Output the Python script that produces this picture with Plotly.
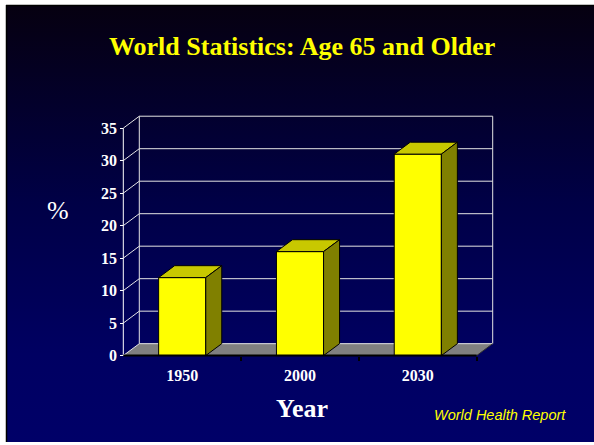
import base64
import plotly.graph_objects as go

# ---- data ----
categories = ["1950", "2000", "2030"]
values = [12, 16, 31]
y_ticks = [0, 5, 10, 15, 20, 25, 30, 35]

title_text = "World Statistics: Age 65 and Older"
y_label = "%"
x_label = "Year"
source_text = "World Health Report"

# ---- geometry (pixels) ----
W, H = 594, 445
FRONT_L, FRONT_R = 123.3, 476.7      # px of x = -0.5 and x = 2.5 (front plane)
Y0_PX, YTOP_PX = 358.0, 129.0        # px of y = 0 and y = 35 (front plane)
DEPTH_X_PX, DEPTH_Y_PX = 16.0, 12.0  # 3D depth offset
PAD = 6.0

n = len(categories)
xs = list(range(n))
x_lo, x_hi = -0.5, n - 0.5
y_max = y_ticks[-1]
sx = (FRONT_R - FRONT_L) / (x_hi - x_lo)
sy = (Y0_PX - YTOP_PX) / (y_max - y_ticks[0])
DX = DEPTH_X_PX / sx
DY = DEPTH_Y_PX / sy
BAR_W = 0.4

x_range = [x_lo - PAD / sx, x_hi + DX + PAD / sx]
y_range = [-PAD / sy, y_max + DY + PAD / sy]
x_dom = [(FRONT_L - PAD) / W, (FRONT_R + DEPTH_X_PX + PAD) / W]
y_dom = [(H - Y0_PX - PAD) / H, (H - YTOP_PX + DEPTH_Y_PX + PAD) / H]

fig = go.Figure()

# front faces
fig.add_trace(go.Bar(
    x=xs, y=values, width=BAR_W,
    marker=dict(color="#FFFF00", line=dict(color="black", width=1)),
    hoverinfo="skip", showlegend=False,
))

# top faces
tx, ty = [], []
for i, v in zip(xs, values):
    l, r = i - BAR_W / 2, i + BAR_W / 2
    tx += [l, r, r + DX, l + DX, l, None]
    ty += [v, v, v + DY, v + DY, v, None]
fig.add_trace(go.Scatter(x=tx, y=ty, mode="lines", fill="toself",
                         fillcolor="#C8C800", line=dict(color="black", width=1),
                         hoverinfo="skip", showlegend=False))
# side faces
sxs, sys_ = [], []
for i, v in zip(xs, values):
    r = i + BAR_W / 2
    sxs += [r, r + DX, r + DX, r, r, None]
    sys_ += [0, DY, v + DY, v, 0, None]
fig.add_trace(go.Scatter(x=sxs, y=sys_, mode="lines", fill="toself",
                         fillcolor="#808000", line=dict(color="black", width=1),
                         hoverinfo="skip", showlegend=False))

shapes = []
# floor
shapes.append(dict(type="path", xref="x", yref="y", layer="below",
                   path=f"M {x_lo},0 L {x_hi},0 L {x_hi+DX},{DY} L {x_lo+DX},{DY} Z",
                   fillcolor="#808080", line=dict(width=0)))
grid_col = "#E4E4E4"
for v in y_ticks:
    shapes.append(dict(type="line", xref="x", yref="y", layer="below",
                       x0=x_lo + DX, x1=x_hi + DX, y0=v + DY, y1=v + DY,
                       line=dict(color=grid_col, width=1)))
    shapes.append(dict(type="line", xref="x", yref="y", layer="below",
                       x0=x_lo, x1=x_lo + DX, y0=v, y1=v + DY,
                       line=dict(color=grid_col, width=1)))
for xv in (x_lo + DX, x_hi + DX):
    shapes.append(dict(type="line", xref="x", yref="y", layer="below",
                       x0=xv, x1=xv, y0=DY, y1=y_max + DY,
                       line=dict(color=grid_col, width=1)))
# front value axis line
shapes.append(dict(type="line", xref="x", yref="y", layer="below",
                   x0=x_lo, x1=x_lo, y0=0, y1=y_max,
                   line=dict(color="white", width=1)))
# floor right edge
shapes.append(dict(type="line", xref="x", yref="y", layer="below",
                   x0=x_hi, x1=x_hi + DX, y0=0, y1=DY,
                   line=dict(color="#303030", width=1)))
# floor front edge
shapes.append(dict(type="line", xref="x", yref="y", layer="above",
                   x0=x_lo, x1=x_hi, y0=0, y1=0,
                   line=dict(color="black", width=2)))
# slide border
shapes.append(dict(type="line", xref="paper", yref="paper", layer="above",
                   x0=6.5 / W, x1=6.5 / W, y0=0, y1=1 - 5 / H,
                   line=dict(color="black", width=1.5)))
shapes.append(dict(type="line", xref="paper", yref="paper", layer="above",
                   x0=6 / W, x1=1, y0=1 - 5.5 / H, y1=1 - 5.5 / H,
                   line=dict(color="black", width=1.5)))

# gradient background
svg = ('<svg xmlns="http://www.w3.org/2000/svg" width="594" height="440" '
       'viewBox="0 0 594 440" preserveAspectRatio="none">'
       '<defs><linearGradient id="g" x1="0" y1="0" x2="0" y2="1">'
       '<stop offset="0" stop-color="#060010"/>'
       '<stop offset="0.45" stop-color="#000046"/>'
       '<stop offset="0.8" stop-color="#000062"/>'
       '<stop offset="1" stop-color="#000068"/>'
       '</linearGradient></defs>'
       '<rect x="0" y="0" width="594" height="440" fill="url(#g)"/></svg>')
src = "data:image/svg+xml;base64," + base64.b64encode(svg.encode()).decode()

serif = "Liberation Serif, Times New Roman, serif"
sans = "Liberation Sans, Arial, sans-serif"

fig.update_layout(
    width=W, height=H,
    margin=dict(l=0, r=0, t=0, b=0),
    paper_bgcolor="white",
    plot_bgcolor="rgba(0,0,0,0)",
    showlegend=False,
    images=[dict(source=src, xref="paper", yref="paper", x=6 / W, y=1 - 5 / H,
                 sizex=1 - 6 / W, sizey=1 - 5 / H, sizing="stretch",
                 xanchor="left", yanchor="top", layer="below")],
    shapes=shapes,
    xaxis=dict(range=x_range, domain=x_dom, anchor="free",
               position=(H - Y0_PX) / H,
               tickvals=xs, ticktext=categories, ticks="",
               ticklabelstandoff=8,
               showgrid=False, zeroline=False, showline=False,
               tickfont=dict(family=serif, size=16, color="white", weight="bold"),
               minor=dict(tickvals=[x + 0.5 for x in xs], ticks="outside",
                          ticklen=4, tickcolor="black", tickwidth=1.5,
                          showgrid=False),
               fixedrange=True),
    yaxis=dict(range=y_range, domain=y_dom, anchor="free",
               position=FRONT_L / W,
               tickvals=y_ticks, ticks="outside", ticklen=3,
               tickcolor="white", tickwidth=1,
               showgrid=False, zeroline=False, showline=False,
               tickfont=dict(family=serif, size=16, color="white", weight="bold"),
               fixedrange=True),
    annotations=[
        dict(text=title_text, xref="paper", yref="paper", x=301.5 / W, y=1 - 47 / H,
             xanchor="center", yanchor="middle", showarrow=False,
             font=dict(family=serif, size=26, color="#FFFF00", weight="bold")),
        dict(text=y_label, xref="paper", yref="paper", x=58 / W, y=1 - 212 / H,
             xanchor="center", yanchor="middle", showarrow=False,
             font=dict(family=serif, size=26, color="white")),
        dict(text=x_label, xref="paper", yref="paper", x=302 / W, y=1 - 411 / H,
             xanchor="center", yanchor="middle", showarrow=False,
             font=dict(family=serif, size=26, color="white", weight="bold")),
        dict(text=source_text, xref="paper", yref="paper", x=500 / W, y=1 - 418 / H,
             xanchor="center", yanchor="middle", showarrow=False,
             font=dict(family=sans, size=14.5, color="#FFFF00", style="italic")),
    ],
)

fig.write_html("out.html")
